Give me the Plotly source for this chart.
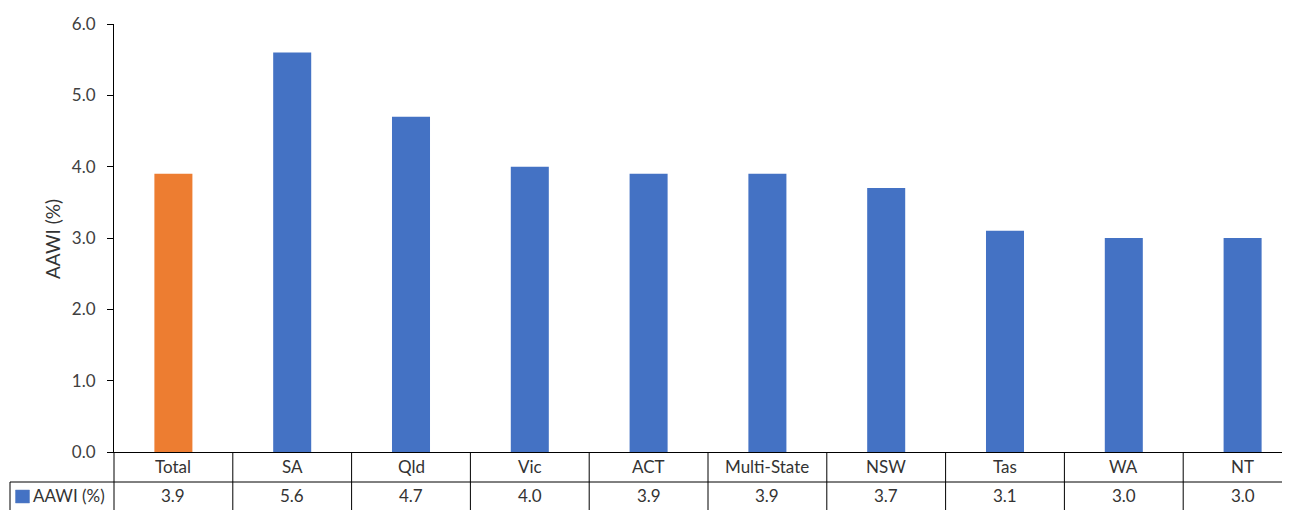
import plotly.graph_objects as go

categories = ["Total", "SA", "Qld", "Vic", "ACT", "Multi-State", "NSW", "Tas", "WA", "NT"]
values = [3.9, 5.6, 4.7, 4.0, 3.9, 3.9, 3.7, 3.1, 3.0, 3.0]
colors = ["#ED7D31"] + ["#4472C4"] * 9
y_ticks = [0, 1, 2, 3, 4, 5, 6]
series_name = "AAWI (%)"

# the page has an 8px body margin; figure is sized so it fills the 1290x510 window
OFF = 8
W, H = 1290 - OFF, 510 - OFF
L, R, T, B = 114 - OFF, 0, 24 - OFF, 58
plot_w = W - L - R
plot_h = H - T - B
col_px = 118.8
x_max = -0.5 + plot_w / col_px

def py(pix):  # page pixel y -> paper y
    return (OFF + T + plot_h - pix) / plot_h

def px(pix):  # page pixel x -> paper x
    return (pix - OFF - L) / plot_w

FONT = "Lato, 'Open Sans', sans-serif"
TXT = "#333333"
TICK = "#404040"
FS = 17

fig = go.Figure()
fig.add_trace(go.Bar(
    x=list(range(len(categories))), y=values,
    marker=dict(color=colors, line=dict(width=0)),
    width=0.32, hoverinfo="y", showlegend=False,
))

shapes = []
line = dict(color="black", width=1)
shapes.append(dict(type="line", xref="paper", yref="paper", x0=px(10), x1=1, y0=py(482), y1=py(482), line=line))
shapes.append(dict(type="line", xref="paper", yref="paper", x0=px(10), x1=px(10), y0=py(482), y1=py(515), line=line))
shapes.append(dict(type="line", xref="paper", yref="paper", x0=0, x1=0, y0=0, y1=py(515), line=line))
for k in range(len(categories) - 1):
    shapes.append(dict(type="line", xref="x", yref="paper", x0=k + 0.5, x1=k + 0.5, y0=0, y1=py(515), line=line))
shapes.append(dict(type="rect", xref="paper", yref="paper", x0=px(15.5), x1=px(29.5), y0=py(503), y1=py(490),
                   fillcolor="#4472C4", line=dict(color="#5a7fbf", width=0.5)))

annotations = []
for i, (c, v) in enumerate(zip(categories, values)):
    annotations.append(dict(x=i, y=py(466), xref="x", yref="paper", text=c, showarrow=False,
                            font=dict(family=FONT, size=FS, color=TXT), xanchor="center", yanchor="middle"))
    annotations.append(dict(x=i, y=py(495), xref="x", yref="paper", text=f"{v:.1f}", showarrow=False,
                            font=dict(family=FONT, size=FS, color=TXT), xanchor="center", yanchor="middle"))
annotations.append(dict(x=px(31), y=py(495), xref="paper", yref="paper", text=series_name, showarrow=False,
                        font=dict(family=FONT, size=FS, color=TXT), xanchor="left", yanchor="middle"))
annotations.append(dict(x=px(53), y=py(239), xref="paper", yref="paper", text=series_name, showarrow=False,
                        textangle=-90, font=dict(family=FONT, size=FS + 2, color=TXT), xanchor="center", yanchor="middle"))

fig.update_layout(
    width=W, height=H,
    margin=dict(l=L, r=R, t=T, b=B),
    paper_bgcolor="white", plot_bgcolor="white",
    xaxis=dict(range=[-0.5, x_max], showticklabels=False, ticks="", showgrid=False, zeroline=False,
               showline=True, linecolor="black", linewidth=1),
    yaxis=dict(range=[0, 6], tickvals=y_ticks, tickformat=".1f", ticks="outside", ticklen=6, tickcolor="black",
               showgrid=False, zeroline=False, showline=True, linecolor="black", linewidth=1,
               ticklabelstandoff=8,
               tickfont=dict(family=FONT, size=FS, color=TICK)),
    shapes=shapes, annotations=annotations,
    font=dict(family=FONT),
)

fig.write_html("out.html")
